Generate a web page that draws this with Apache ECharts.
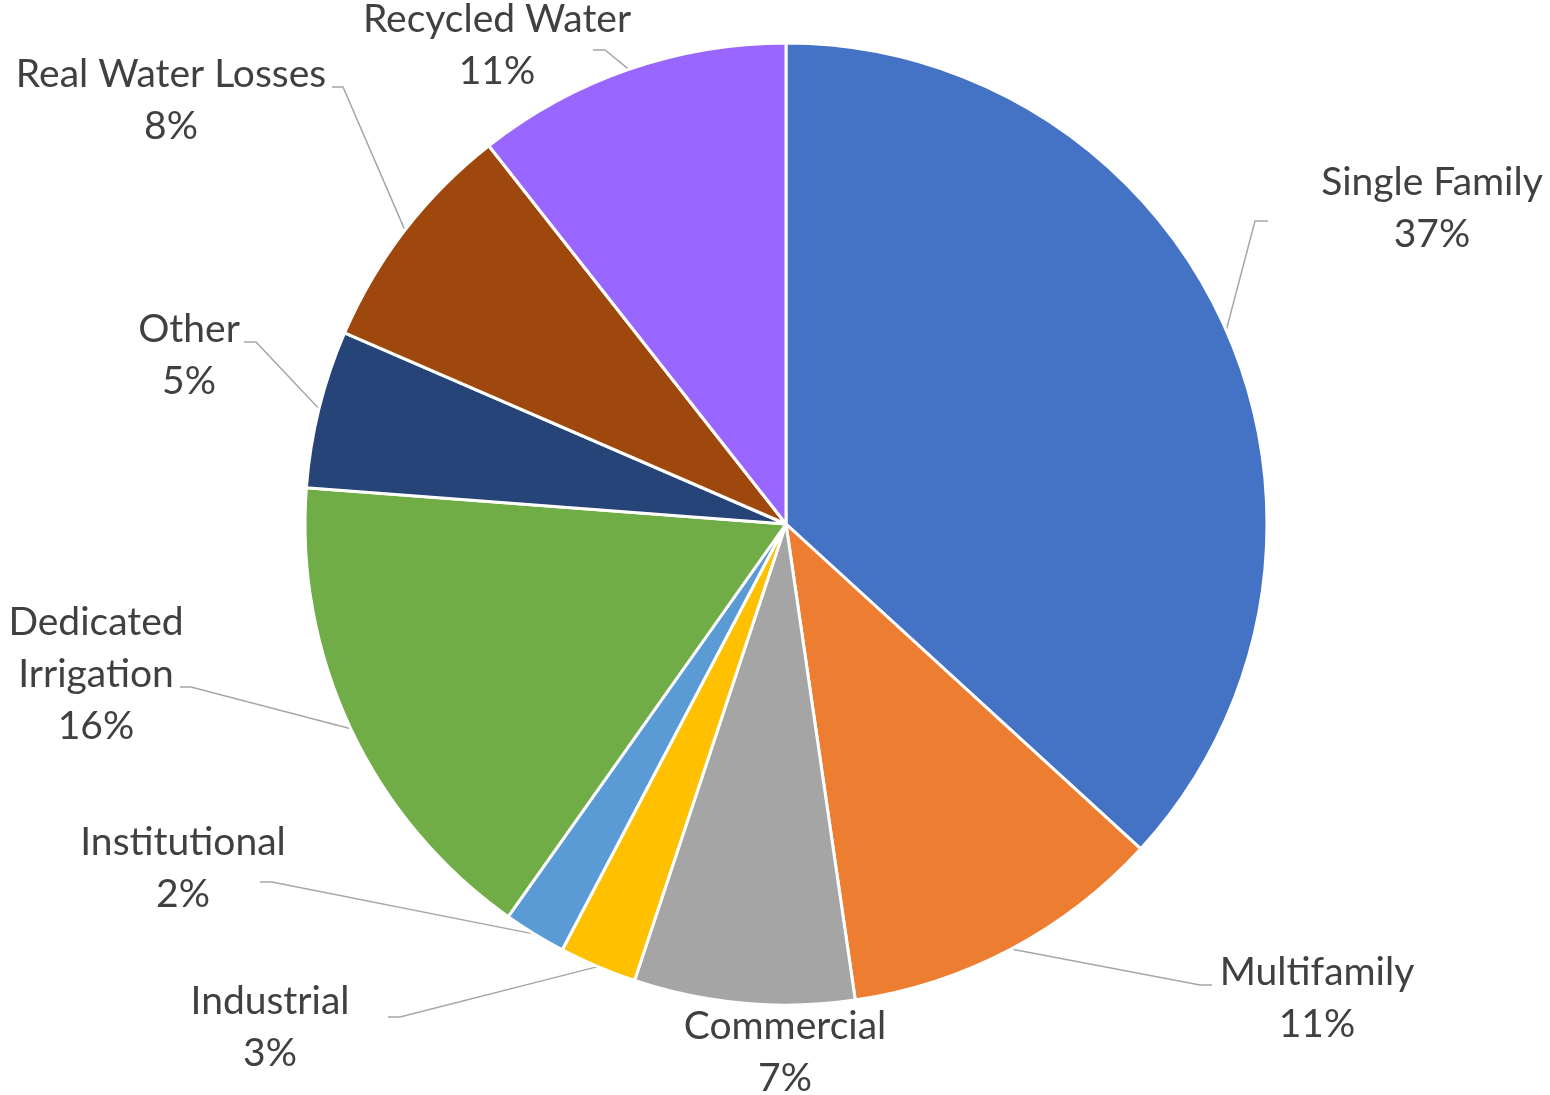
<!DOCTYPE html>
<html>
<head>
<meta charset="utf-8">
<script src="https://cdn.jsdelivr.net/npm/echarts@6/dist/echarts.min.js"></script>
<style>html,body{margin:0;padding:0;background:#fff;}#c{width:1550px;height:1095px;}</style>
</head>
<body>
<div id="c"></div>
<script>
const categories = ['Single Family','Multifamily','Commercial','Industrial','Institutional','Dedicated Irrigation','Other','Real Water Losses','Recycled Water'];
const labelTexts = ['Single Family','Multifamily','Commercial','Industrial','Institutional','Dedicated\nIrrigation','Other','Real Water Losses','Recycled Water'];
const values = [36.8, 10.9, 7.4, 2.6, 2.1, 16.4, 5.3, 7.9, 10.6];
const colors = ['#4472C4','#ED7D31','#A5A5A5','#FFC000','#5B9BD5','#70AD47','#264478','#9E480E','#9966FF'];

// label layout: center of label block, knee point, end point of leader line
const labelLayoutCfg = [
  {x:1432, y:208, knee:[1255,221], end:[1268,221]},
  {x:1317, y:998, knee:[1200,985], end:[1212,985]},
  {x:785,  y:1052, knee:null, end:null},
  {x:270,  y:1027, knee:[400,1017], end:[388,1017]},
  {x:183,  y:868, knee:[272,882], end:[260,882]},
  {x:96,   y:674, knee:[191,687], end:[180,687]},
  {x:189,  y:355, knee:[256,342], end:[244,342]},
  {x:171,  y:100, knee:[343,87], end:[332,87]},
  {x:497,  y:45,  knee:[605,50], end:[593,50]}
];

const chart = echarts.init(document.getElementById('c'), null, {renderer:'canvas'});
const data = categories.map((name, i) => ({
  name: name,
  value: values[i],
  itemStyle: {color: colors[i]},
  labelLine: {show: labelLayoutCfg[i].knee !== null}
}));

chart.setOption({
  animation: false,
  series: [{
    type: 'pie',
    center: [786, 524],
    radius: [0, 481],
    startAngle: 90,
    clockwise: true,
    avoidLabelOverlap: false,
    data: data,
    itemStyle: {borderColor: '#ffffff', borderWidth: 3},
    label: {
      show: true,
      position: 'outside',
      fontFamily: 'Lato',
      fontSize: 39,
      lineHeight: 52,
      color: '#404040',
      align: 'center',
      formatter: p => labelTexts[p.dataIndex] + '\n' + Math.round(p.percent) + '%'
    },
    labelLine: {
      show: true,
      lineStyle: {color: '#A6A6A6', width: 1.5}
    },
    labelLayout: function (params) {
      const cfg = labelLayoutCfg[params.dataIndex];
      const out = {x: cfg.x, y: cfg.y, align: 'center', verticalAlign: 'middle'};
      if (cfg.knee && params.labelLinePoints) {
        const s = params.labelLinePoints[0];
        out.labelLinePoints = [[s[0], s[1]], cfg.knee, cfg.end];
      }
      return out;
    }
  }]
});
</script>
</body>
</html>
